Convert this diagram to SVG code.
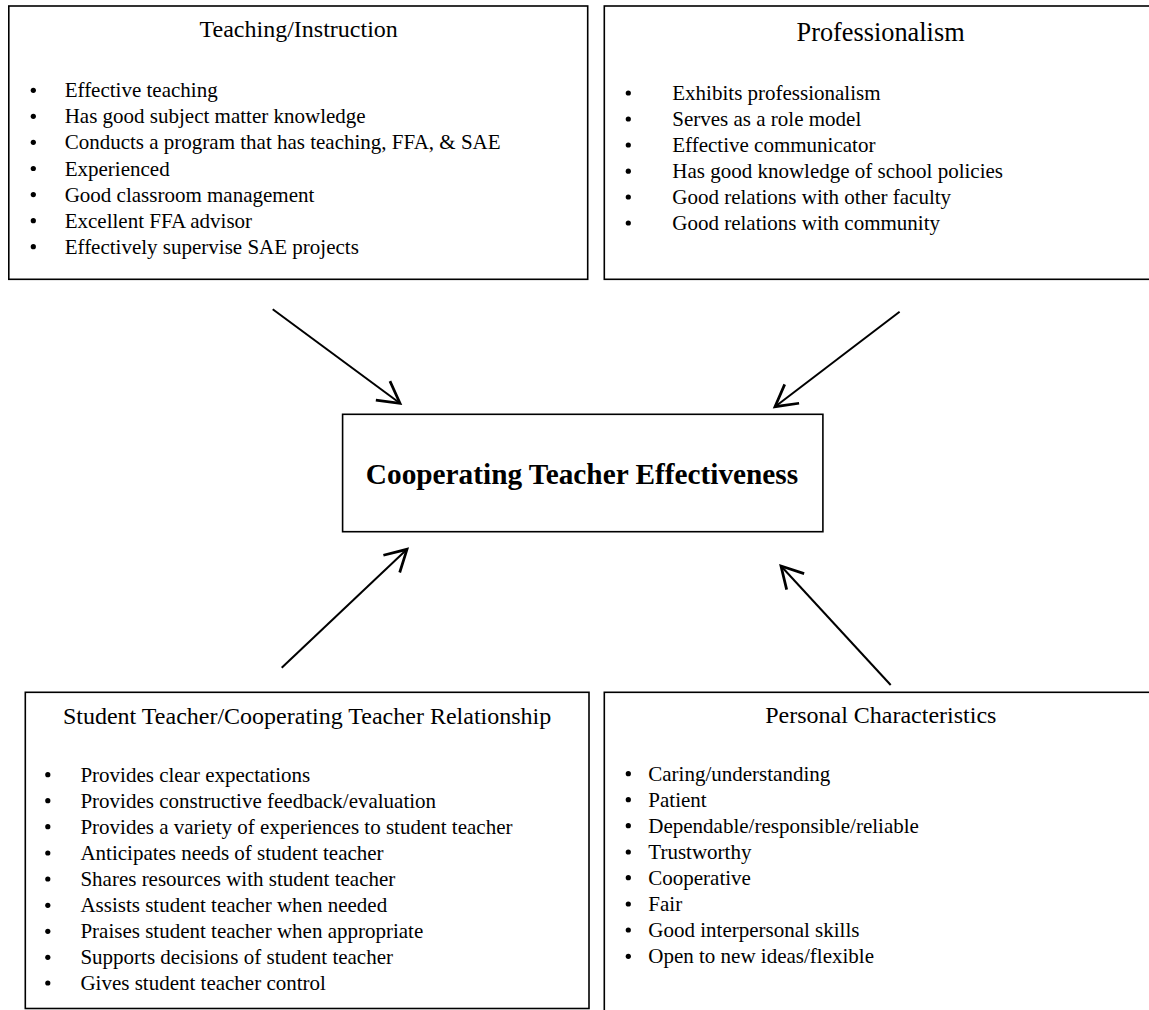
<svg xmlns="http://www.w3.org/2000/svg" width="1149" height="1010" viewBox="0 0 1149 1010">
<defs>
<style>
.box{fill:#fff;stroke:#000;stroke-width:1.6}
.t{font-family:"Liberation Serif","Times New Roman",serif;fill:#000}
.title{font-size:24px;text-anchor:middle}
.item{font-size:21px}
.main{font-size:29.3px;font-weight:bold;text-anchor:middle}
.b{fill:#000}
.arrow{stroke:#000;stroke-width:2;fill:none;marker-end:url(#head)}
</style>
<marker id="head" markerUnits="userSpaceOnUse" markerWidth="30" markerHeight="30" viewBox="-20 -12 22 24" refX="0" refY="0" orient="auto">
<path d="M-17,-9.5 L0,0 L-17,9.5" fill="none" stroke="#000" stroke-width="2.2" stroke-linejoin="miter"/>
</marker>
</defs>
<rect width="1149" height="1010" fill="#fff"/>

<g id="teaching">
<rect class="box" x="8.8" y="6" width="578.9" height="273.3"/>
<text class="t title" x="298.7" y="37.3">Teaching/Instruction</text>
<g class="b">
<circle cx="33.3" cy="90.3" r="2.6"/><circle cx="33.3" cy="116.3" r="2.6"/><circle cx="33.3" cy="142.3" r="2.6"/><circle cx="33.3" cy="168.5" r="2.6"/><circle cx="33.3" cy="194.6" r="2.6"/><circle cx="33.3" cy="220.7" r="2.6"/><circle cx="33.3" cy="246.7" r="2.6"/>
</g>
<text class="t item" x="64.7" y="97.3">Effective teaching</text>
<text class="t item" x="64.7" y="123.3">Has good subject matter knowledge</text>
<text class="t item" x="64.7" y="149.3">Conducts a program that has teaching, FFA, &amp; SAE</text>
<text class="t item" x="64.7" y="175.5">Experienced</text>
<text class="t item" x="64.7" y="201.6">Good classroom management</text>
<text class="t item" x="64.7" y="227.7">Excellent FFA advisor</text>
<text class="t item" x="64.7" y="253.7">Effectively supervise SAE projects</text>
</g>

<g id="professionalism">
<rect class="box" x="604.3" y="6" width="560" height="273.3"/>
<text class="t title" x="880.6" y="40.7" style="font-size:26.3px">Professionalism</text>
<g class="b">
<circle cx="628.3" cy="93" r="2.6"/><circle cx="628.3" cy="119" r="2.6"/><circle cx="628.3" cy="145" r="2.6"/><circle cx="628.3" cy="171.2" r="2.6"/><circle cx="628.3" cy="197" r="2.6"/><circle cx="628.3" cy="223" r="2.6"/>
</g>
<text class="t item" x="672.3" y="100">Exhibits professionalism</text>
<text class="t item" x="672.3" y="126">Serves as a role model</text>
<text class="t item" x="672.3" y="152">Effective communicator</text>
<text class="t item" x="672.3" y="178.2">Has good knowledge of school policies</text>
<text class="t item" x="672.3" y="204">Good relations with other faculty</text>
<text class="t item" x="672.3" y="230">Good relations with community</text>
</g>

<g id="effectiveness">
<rect class="box" x="342.6" y="414.3" width="480.3" height="117.4"/>
<text class="t main" x="582" y="484.3">Cooperating Teacher Effectiveness</text>
</g>

<g id="relationship">
<rect class="box" x="25.3" y="692.3" width="563.7" height="316.2"/>
<text class="t title" x="307.1" y="724">Student Teacher/Cooperating Teacher Relationship</text>
<g class="b">
<circle cx="47.8" cy="774.7" r="2.6"/><circle cx="47.8" cy="800.7" r="2.6"/><circle cx="47.8" cy="826.7" r="2.6"/><circle cx="47.8" cy="853" r="2.6"/><circle cx="47.8" cy="879" r="2.6"/><circle cx="47.8" cy="905.3" r="2.6"/><circle cx="47.8" cy="931.3" r="2.6"/><circle cx="47.8" cy="957.3" r="2.6"/><circle cx="47.8" cy="983" r="2.6"/>
</g>
<text class="t item" x="80.4" y="781.7">Provides clear expectations</text>
<text class="t item" x="80.4" y="807.7">Provides constructive feedback/evaluation</text>
<text class="t item" x="80.4" y="833.7">Provides a variety of experiences to student teacher</text>
<text class="t item" x="80.4" y="860">Anticipates needs of student teacher</text>
<text class="t item" x="80.4" y="886">Shares resources with student teacher</text>
<text class="t item" x="80.4" y="912.3">Assists student teacher when needed</text>
<text class="t item" x="80.4" y="938.3">Praises student teacher when appropriate</text>
<text class="t item" x="80.4" y="964.3">Supports decisions of student teacher</text>
<text class="t item" x="80.4" y="990">Gives student teacher control</text>
</g>

<g id="personal">
<rect class="box" x="604.3" y="692.3" width="560" height="340"/>
<text class="t title" x="880.8" y="722.7">Personal Characteristics</text>
<g class="b">
<circle cx="628.3" cy="773.7" r="2.6"/><circle cx="628.3" cy="799.7" r="2.6"/><circle cx="628.3" cy="825.7" r="2.6"/><circle cx="628.3" cy="852" r="2.6"/><circle cx="628.3" cy="877.7" r="2.6"/><circle cx="628.3" cy="904" r="2.6"/><circle cx="628.3" cy="930" r="2.6"/><circle cx="628.3" cy="956.3" r="2.6"/>
</g>
<text class="t item" x="648.3" y="780.7">Caring/understanding</text>
<text class="t item" x="648.3" y="806.7">Patient</text>
<text class="t item" x="648.3" y="832.7">Dependable/responsible/reliable</text>
<text class="t item" x="648.3" y="859">Trustworthy</text>
<text class="t item" x="648.3" y="884.7">Cooperative</text>
<text class="t item" x="648.3" y="911">Fair</text>
<text class="t item" x="648.3" y="937">Good interpersonal skills</text>
<text class="t item" x="648.3" y="963.3">Open to new ideas/flexible</text>
</g>

<g id="connectors">
<line class="arrow" x1="272.7" y1="309.3" x2="400" y2="403.3"/>
<line class="arrow" x1="899.6" y1="311.7" x2="775" y2="406.7"/>
<line class="arrow" x1="281.7" y1="667.7" x2="407" y2="549.3"/>
<line class="arrow" x1="890.7" y1="685" x2="781" y2="566"/>
</g>
</svg>
